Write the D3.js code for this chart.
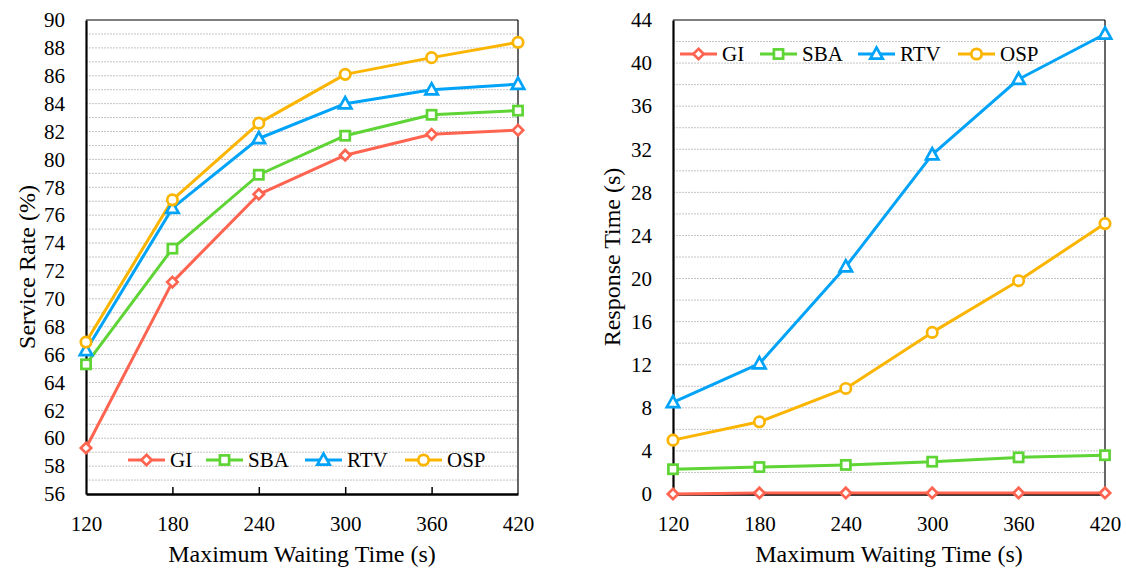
<!DOCTYPE html>
<html>
<head>
<meta charset="utf-8">
<script src="https://cdn.jsdelivr.net/npm/d3@7"></script>
<style>
  html, body { margin: 0; padding: 0; background: #fff; }
  svg { display: block; }
</style>
</head>
<body>
<svg id="chart" width="1126" height="569"></svg>
<script>
// Maximum waiting time (s)
const waitTimes = [120, 180, 240, 300, 360, 420];
const seriesNames = ["GI", "SBA", "RTV", "OSP"];

// Service rate (%)
const serviceGI  = [59.3, 71.2, 77.5, 80.3, 81.8, 82.1];
const serviceSBA = [65.3, 73.6, 78.9, 81.7, 83.2, 83.5];
const serviceRTV = [66.3, 76.5, 81.5, 84.0, 85.0, 85.4];
const serviceOSP = [66.9, 77.1, 82.6, 86.1, 87.3, 88.4];

// Response time (s)
const responseGI  = [0.0, 0.1, 0.1, 0.1, 0.1, 0.1];
const responseSBA = [2.3, 2.5, 2.7, 3.0, 3.4, 3.6];
const responseRTV = [8.5, 12.1, 21.1, 31.5, 38.5, 42.7];
const responseOSP = [5.0, 6.7, 9.8, 15.0, 19.8, 25.1];

const serviceTicks  = d3.range(56, 91, 2);
const responseTicks = d3.range(0, 45, 4);

const colors  = { GI: "#FF6450", SBA: "#5ED435", RTV: "#00A3F7", OSP: "#FBB500" };
const markers = { GI: "diamond", SBA: "square", RTV: "triangle", OSP: "circle" };

const FONT = "'Liberation Serif', 'Times New Roman', serif";

const svg = d3.select("#chart");

function drawMarker(g, type, x, y, color) {
  let m;
  if (type === "circle") {
    m = g.append("circle").attr("cx", x).attr("cy", y).attr("r", 5.2);
  } else if (type === "square") {
    m = g.append("rect").attr("x", x - 4.6).attr("y", y - 4.6).attr("width", 9.2).attr("height", 9.2);
  } else if (type === "diamond") {
    const s = 5.2;
    m = g.append("path").attr("d", `M${x},${y - s}L${x + s},${y}L${x},${y + s}L${x - s},${y}Z`);
  } else {
    const s = 6.2;
    m = g.append("path").attr("d", `M${x},${y - s * 1.05}L${x + s},${y + s * 0.75}L${x - s},${y + s * 0.75}Z`);
  }
  m.attr("fill", "#fff").attr("stroke", color).attr("stroke-width", 2.7);
}

function panel(opts) {
  const { left, right, top, bottom, domain, ticks, gridStep, data, yLabel, yLabelPos, legend, innerTicks } = opts;
  const g = svg.append("g");
  const x = d3.scaleLinear().domain([120, 420]).range([left, right]);
  const y = d3.scaleLinear().domain(domain).range([bottom, top]);

  // dotted horizontal gridlines
  const grid = d3.range(domain[0] + gridStep, domain[1], gridStep);
  g.append("g").selectAll("line").data(grid).join("line")
    .attr("x1", left).attr("x2", right)
    .attr("y1", d => y(d)).attr("y2", d => y(d))
    .attr("stroke", "#c4c4c4").attr("stroke-width", 1).attr("stroke-dasharray", "2,1");

  // frame: thin top/right, thick left/bottom axes
  g.append("line").attr("x1", left).attr("x2", right).attr("y1", top).attr("y2", top)
    .attr("stroke", "#000").attr("stroke-width", 1.2);
  g.append("line").attr("x1", right).attr("x2", right).attr("y1", top).attr("y2", bottom)
    .attr("stroke", "#000").attr("stroke-width", 1.2);

  // y axis
  const yAxis = d3.axisLeft(y).tickValues(ticks).tickSize(0).tickPadding(21).tickFormat(d3.format("d"));
  const ya = g.append("g").attr("transform", `translate(${left},0)`).call(yAxis)
    .attr("font-family", FONT).attr("font-size", 21);
  ya.select(".domain").attr("stroke", "#000").attr("stroke-width", 2.2);
  ya.selectAll("text").attr("fill", "#000");

  // x axis, optionally with short inward ticks
  const xAxis = d3.axisBottom(x).tickValues(waitTimes).tickSize(0).tickPadding(22).tickFormat(d3.format("d"));
  const xa = g.append("g").attr("transform", `translate(0,${bottom})`).call(xAxis)
    .attr("font-family", FONT).attr("font-size", 21);
  xa.select(".domain").attr("stroke", "#000").attr("stroke-width", 2.5);
  xa.selectAll("text").attr("fill", "#000");
  if (innerTicks) {
    xa.selectAll(".tick").filter(d => d > 120 && d < 420).append("line")
      .attr("y1", 0).attr("y2", -7).attr("stroke", "#000").attr("stroke-width", 1.5);
  }

  // axis titles
  g.append("text").attr("x", (left + right) / 2).attr("y", bottom + 68)
    .attr("text-anchor", "middle").attr("font-family", FONT).attr("font-size", 24)
    .attr("fill", "#000").text("Maximum Waiting Time (s)");
  g.append("text").attr("transform", `translate(${yLabelPos[0]},${yLabelPos[1]}) rotate(-90)`)
    .attr("text-anchor", "middle").attr("font-family", FONT).attr("font-size", 24)
    .attr("fill", "#000").text(yLabel);

  // series lines and markers
  const line = d3.line().x((d, i) => x(waitTimes[i])).y(d => y(d));
  seriesNames.forEach(name => {
    g.append("path").datum(data[name]).attr("d", line)
      .attr("fill", "none").attr("stroke", colors[name]).attr("stroke-width", 3)
      .attr("stroke-linejoin", "round");
  });
  seriesNames.forEach(name => {
    const mg = g.append("g");
    data[name].forEach((v, i) => drawMarker(mg, markers[name], x(waitTimes[i]), y(v), colors[name]));
  });

  // legend
  const lg = g.append("g");
  seriesNames.forEach((name, i) => {
    const lx = legend.xs[i];
    const ly = legend.y;
    lg.append("line").attr("x1", lx).attr("x2", lx + 37).attr("y1", ly).attr("y2", ly)
      .attr("stroke", colors[name]).attr("stroke-width", 3);
    drawMarker(lg, markers[name], lx + 18.5, ly, colors[name]);
    lg.append("text").attr("x", lx + 42).attr("y", ly + 7)
      .attr("font-family", FONT).attr("font-size", 21).attr("fill", "#000").text(name);
  });
}

panel({
  left: 86, right: 518, top: 20, bottom: 494,
  domain: [56, 90], ticks: serviceTicks, gridStep: 1,
  data: { GI: serviceGI, SBA: serviceSBA, RTV: serviceRTV, OSP: serviceOSP },
  yLabel: "Service Rate (%)", yLabelPos: [35, 267], innerTicks: true,
  legend: { y: 460, xs: [128, 206, 305, 405] }
});

panel({
  left: 673, right: 1105, top: 20, bottom: 494,
  domain: [0, 44], ticks: responseTicks, gridStep: 2,
  data: { GI: responseGI, SBA: responseSBA, RTV: responseRTV, OSP: responseOSP },
  yLabel: "Response Time (s)", yLabelPos: [620, 257], innerTicks: false,
  legend: { y: 54, xs: [680, 760, 858, 958] }
});
</script>
</body>
</html>
